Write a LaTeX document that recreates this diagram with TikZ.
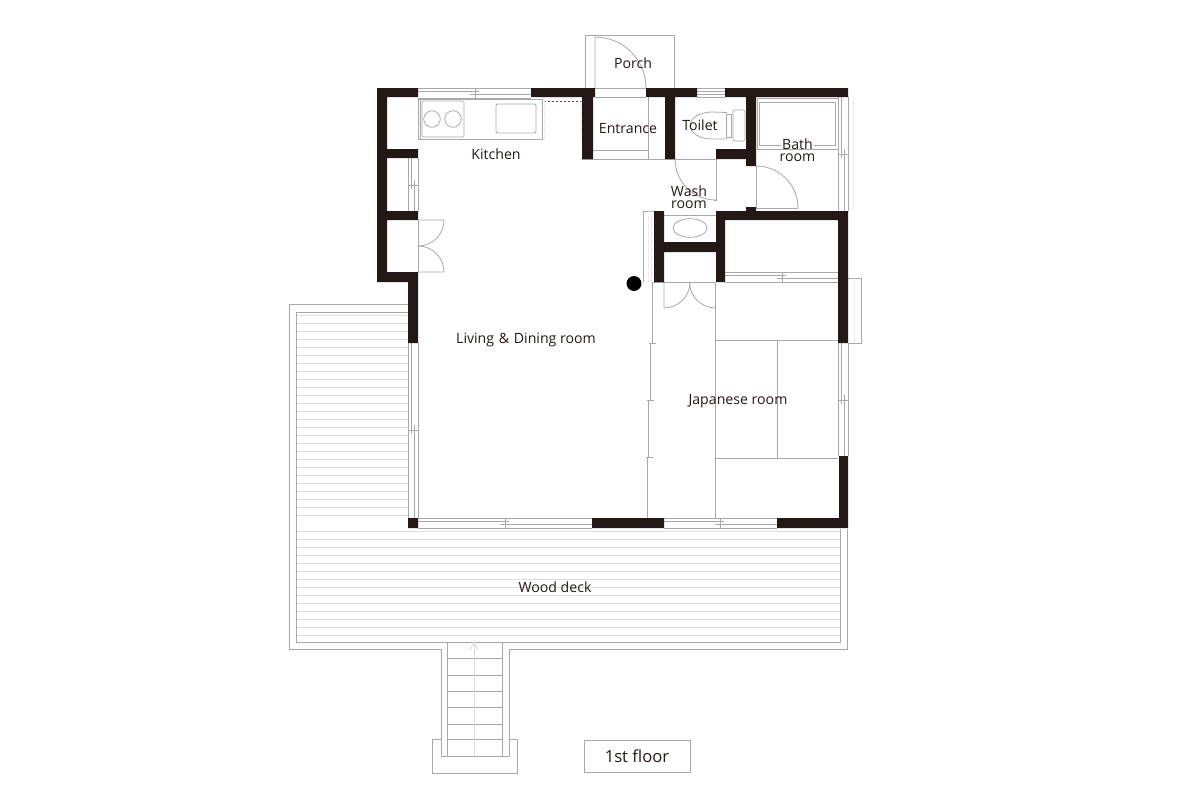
\documentclass[tikz,border=0pt]{standalone}
\usepackage{xcolor}
\usepackage{fontspec}
\setmainfont{Open Sans}
\usepackage{tikz}
\usetikzlibrary{arrows}
\definecolor{wallblack}{HTML}{231815}
\definecolor{linegray}{HTML}{A8A8A8}
\definecolor{deckgray}{HTML}{DDDDDD}
\begin{document}
\begin{tikzpicture}[x=0.75pt,
				y=-0.75pt,
				thinline/.style={draw=linegray, line width=0.6pt},
				deckline/.style={draw=deckgray, line width=0.7pt},
				dotline/.style={draw=deckgray, line width=0.6pt, dash pattern=on 1pt off 1pt},
				wall/.style={fill=wallblack},
				roomlabel/.style={text=wallblack, inner sep=0pt, font=\fontsize{10.6}{12}\selectfont}]
				\useasboundingbox (0,0) rectangle (1200,800);
				% wood deck
				\foreach \y in {315,323,...,515}
					\draw[deckline] (296,\y) -- (408,\y);
				\foreach \y in {531,539,...,635}
					\draw[deckline] (296,\y) -- (840,\y);
				\draw[thinline] (408,304) -- (289,304) -- (289,649) -- (441,649) -- (441,756) -- (509,756) -- (509,649) -- (847,649) -- (847,529);
				\draw[thinline] (408,312) -- (296,312) -- (296,642) -- (840,642) -- (840,529);
				% stairs
				\foreach \y in {658,675,691,707,724,739}
					\draw[thinline] (447,\y) -- (502,\y);
				\draw[thinline] (447,642) -- (447,756);
				\draw[thinline] (502,642) -- (502,756);
				\draw[thinline] (441,739) -- (432,739) -- (432,773) -- (517,773) -- (517,739) -- (509,739);
				\draw[deckline] (474,756) -- (474,642);
				\draw[deckline] (470,650) -- (474,642) -- (478,650);
				% sliding windows, horizontal
				\foreach \xa/\xb/\xm/\y in {418/531/475/88, 664/777/720/518, 418/592/505/518, 725/838/782/272} {
					\draw[thinline] (\xa,\y) -- (\xb,\y);
					\draw[thinline] (\xa,\y+10) -- (\xb,\y+10);
					\draw[thinline] (\xa,\y+3) -- (\xm+4,\y+3);
					\draw[thinline] (\xm-5,\y+6.5) -- (\xb,\y+6.5);
					\draw[thinline] (\xm,\y) -- (\xm,\y+10);
				}
				% sliding windows, vertical
				\foreach \ya/\yb/\ym/\x in {158/211/185/408, 343/518/430/408, 343/456/400/838, 97/211/154/838} {
					\draw[thinline] (\x,\ya) -- (\x,\yb);
					\draw[thinline] (\x+10,\ya) -- (\x+10,\yb);
					\draw[thinline] (\x+3,\ya) -- (\x+3,\ym+4);
					\draw[thinline] (\x+6.5,\ym-5) -- (\x+6.5,\yb);
					\draw[thinline] (\x,\ym) -- (\x+10,\ym);
				}
				% sliding doors to the Japanese room
				\foreach \x/\ya/\yb in {652/282/343, 650/343/400, 648.7/400/457, 647/457/518} {
					\draw[thinline] (\x,\ya) -- (\x,\yb);
					\draw[thinline] (\x-3,\yb) -- (\x+4,\yb);
				}
				% kitchen
				\draw[thinline] (418,99) rectangle (542,139);
				\draw[thinline] (420,99) -- (420,139);
				\draw[thinline, rounded corners=1pt] (422,101) rectangle (464,137);
				\draw[thinline] (432,119) circle [radius=6.2pt];
				\draw[thinline] (453,119) circle [radius=6.2pt];
				\draw[thinline, rounded corners=1.5pt] (496,104) rectangle (536,133);
				\draw[thinline, dash pattern=on 1.5pt off 1.5pt, draw=black!70] (544,101) -- (581,101);
				\draw[dotline] (544,101) -- (544,139);
				\draw[dotline] (581,101) -- (581,139);
				% left wall door
				\draw[thinline] (418,220) -- (418,272);
				\draw[thinline] (418,220) -- (444,220) arc [start angle=0, end angle=-90, radius=19.5pt];
				\draw[thinline] (418,272) -- (444,272) arc [start angle=0, end angle=90, radius=19.5pt];
				% porch and entrance
				\draw[thinline] (585,88) -- (585,35) -- (674,35) -- (674,88);
				\draw[thinline] (595,88) -- (595,37) arc [start angle=90, end angle=0, radius=38.25pt];
				\draw[thinline] (595,97) -- (646,97);
				\draw[thinline] (595,88) -- (646,88);
				\draw[thinline] (648,97) -- (648,159);
				\draw[thinline] (593,150) -- (648,150);
				\draw[thinline] (582,159) -- (716,159);
				% toilet
				\foreach \y in {88,91,94,97}
					\draw[thinline] (697,\y) -- (725,\y);
				\draw[thinline] (727,112.5) -- (712,112) .. controls (700,112) and (690,118) .. (690,125.5) .. controls (690,133) and (700,139) .. (712,139) -- (727,139);
				\draw[thinline] (726,114) rectangle (731,137);
				\draw[thinline, rounded corners=1pt] (733,110) rectangle (745,141);
				\draw[thinline] (675,159) arc [start angle=180, end angle=270, radius=30.75pt] ;
				\draw[thinline] (716,159) -- (716,200) -- (714,200);
				% bath room
				\draw[thinline] (757,98) rectangle (838,149);
				\draw[thinline] (759,102) rectangle (835,145);
				\draw[thinline] (756,166) -- (756,208) -- (798,208);
				\draw[thinline] (756,166) arc [start angle=90, end angle=0, radius=31.5pt];
				\draw[dotline] (853,97) -- (853,211);
				% wash room
				\draw[thinline] (664,215) -- (716,215);
				\draw[thinline] (690,228) ellipse [x radius=12.75pt, y radius=7pt];
				\draw[thinline] (654,211) -- (643,211) -- (643,282);
				\draw[dotline] (648,211) -- (648,282);
				\draw[dotline] (651,211) -- (651,282);
				% closet door
				\draw[thinline] (652,282) -- (716,282);
				\draw[thinline] (664,282) -- (664,308) arc [start angle=-90, end angle=0, radius=19.5pt];
				\draw[thinline] (715.5,282) -- (715.5,308) arc [start angle=-90, end angle=-180, radius=19.5pt];
				% tatami
				\draw[thinline] (715.5,282) -- (715.5,518);
				\draw[thinline] (715.5,340) -- (838,340);
				\draw[thinline] (715.5,458) -- (838,458);
				\draw[thinline] (777,340) -- (777,458);
				\draw[thinline] (848,278) -- (861,278) -- (861,343) -- (848,343);
				\draw[dotline] (854,278) -- (854,343);
				% walls
				\fill[wall] (377,88) rectangle (418,97)
					(377,97) rectangle (387,282)
					(387,149) rectangle (418,158)
					(387,211) rectangle (418,220)
					(387,272) rectangle (418,282)
					(408,282) rectangle (418,343)
					(531,88) rectangle (595,97)
					(582,97) rectangle (593,159)
					(646,88) rectangle (697,97)
					(665,97) rectangle (675,159)
					(725,88) rectangle (848,97)
					(746,97) rectangle (756,166)
					(716,149) rectangle (746,159)
					(746,207) rectangle (756,211)
					(716,211) rectangle (848,220)
					(838,220) rectangle (848,343)
					(654,211) rectangle (664,282)
					(664,242) rectangle (716,252)
					(716,220) rectangle (725,282)
					(839,456) rectangle (848,528)
					(777,518) rectangle (839,528)
					(592,518) rectangle (664,528)
					(408,518) rectangle (418,528);
				\fill[black] (634,283.5) circle [radius=5.6pt];
				% labels
				\node at (633,63) (porch) [roomlabel] {Porch};
				\node at (628,129) (entrance) [roomlabel] {Entrance};
				\node at (700,125) (toilet) [roomlabel] {Toilet};
				\node at (496,154) (kitchen) [roomlabel] {Kitchen};
				\node at (797.5,144) (bath) [roomlabel, fill=white, inner xsep=1pt] {Bath};
				\node at (797.5,158) (bathroom) [roomlabel] {room};
				\node at (689,191) (wash) [roomlabel] {Wash};
				\node at (689,205) (washroom) [roomlabel] {room};
				\node at (526,340) (living) [roomlabel] {Living\,\,\&\,\,Dining room};
				\node at (738,401) (japanese) [roomlabel] {Japanese room};
				\node at (555,587) (deck) [roomlabel] {Wood deck};
				\node at (637,756) (floor) [draw=linegray, line width=0.6pt, text=wallblack, minimum width=79.5pt, minimum height=24pt, inner sep=0pt, font=\fontsize{12.5}{14}\selectfont] {1st floor};
			\end{tikzpicture}
\end{document}
